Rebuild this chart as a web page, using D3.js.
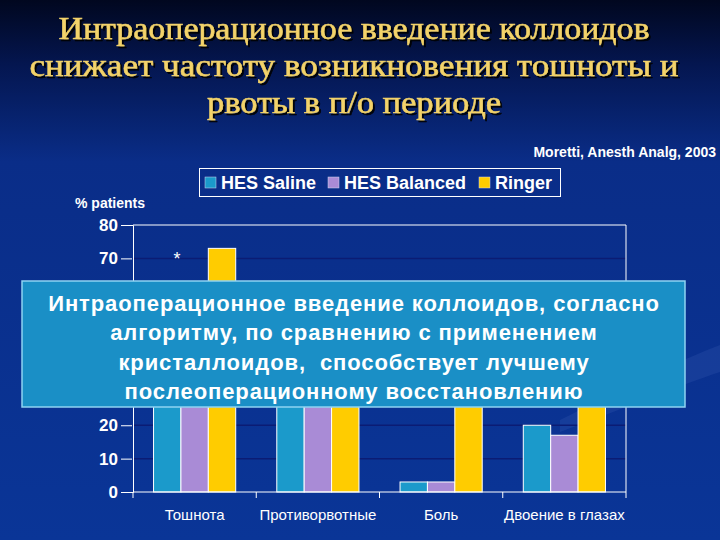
<!DOCTYPE html>
<html>
<head>
<meta charset="utf-8">
<script src="https://cdn.jsdelivr.net/npm/d3@7"></script>
<style>
  html, body { margin: 0; padding: 0; background: #06206e; }
  svg { display: block; }
</style>
</head>
<body>
<div id="chart-container"></div>
<script>
/**************************************************
 * Data
 **************************************************/

const titleLines = [
  "Интраоперационное введение коллоидов",
  "снижает частоту возникновения тошноты и",
  "рвоты в п/о периоде"
];
const noteLines = [
  "Интраоперационное введение коллоидов, согласно",
  "алгоритму, по сравнению с применением",
  "кристаллоидов,  способствует лучшему",
  "послеоперационному восстановлению"
];
const categories = ["Тошнота", "Противорвотные", "Боль", "Двоение в глазах"];
const seriesNames = ["HES Saline", "HES Balanced", "Ringer"];
// values hidden behind the note box are estimates
const hesSaline = [40, 38, 3, 20];
const hesBalanced = [42, 40, 3, 17];
const ringer = [73, 55, 36, 38];
const yTicks = [0, 10, 20, 30, 40, 50, 60, 70, 80];
const yTickLabels = [0, 10, 20, 70, 80]; // the others sit under the note box

/**************************************************
 * Rendering
 **************************************************/

const W = 720, H = 540;
const colors = ["#1b9acb", "#a98bd6", "#ffcc00"];
const seriesValues = [hesSaline, hesBalanced, ringer];
const titleWidths = [591, 649, 294];

const svg = d3.select("#chart-container")
  .append("svg")
  .attr("width", W)
  .attr("height", H);

const defs = svg.append("defs");
const bg = defs.append("linearGradient")
  .attr("id", "bg")
  .attr("x1", 0).attr("y1", 0).attr("x2", 0).attr("y2", 1);
bg.append("stop").attr("offset", "0").attr("stop-color", "#01071f");
bg.append("stop").attr("offset", "0.12").attr("stop-color", "#041650");
bg.append("stop").attr("offset", "0.3").attr("stop-color", "#0a2d88");
bg.append("stop").attr("offset", "1").attr("stop-color", "#0a3597");

const shadow = defs.append("filter").attr("id", "shadow");
shadow.append("feDropShadow")
  .attr("dx", 2).attr("dy", 2)
  .attr("stdDeviation", 0.6)
  .attr("flood-color", "#000000")
  .attr("flood-opacity", 0.9);

svg.append("rect")
  .attr("width", W)
  .attr("height", H)
  .attr("fill", "url(#bg)");

// faint swoosh on the right
svg.append("path")
  .attr("d", "M560,420 C620,390 680,360 720,345 L720,372 C680,385 620,410 560,432 Z")
  .attr("fill", "#4f6fc0")
  .attr("opacity", 0.18);

// Title
svg.append("g")
  .selectAll("text")
  .data(titleLines)
  .enter()
  .append("text")
  .attr("x", 354)
  .attr("y", (d, i) => 39 + i * 37)
  .attr("text-anchor", "middle")
  .attr("textLength", (d, i) => titleWidths[i])
  .attr("lengthAdjust", "spacingAndGlyphs")
  .attr("font-family", "'Liberation Serif', 'DejaVu Serif', serif")
  .attr("font-size", "31px")
  .attr("fill", "#f3d36a")
  .attr("stroke", "#f3d36a")
  .attr("stroke-width", 0.5)
  .attr("filter", "url(#shadow)")
  .text(d => d);

// Source
svg.append("text")
  .attr("x", 716)
  .attr("y", 157)
  .attr("text-anchor", "end")
  .attr("font-family", "'Liberation Sans', Arial, sans-serif")
  .attr("font-weight", "bold")
  .attr("font-size", "14px")
  .attr("fill", "#ffffff")
  .text("Moretti, Anesth Analg, 2003");

// Scales
const xScale = d3.scaleBand()
  .domain(categories)
  .range([133, 626])
  .paddingInner(1 / 3)
  .paddingOuter(1 / 6);

const xSub = d3.scaleBand()
  .domain(seriesNames)
  .range([0, xScale.bandwidth()]);

const yScale = d3.scaleLinear()
  .domain([0, 80])
  .range([492, 225]);

// Gridlines
svg.append("g")
  .selectAll("line")
  .data(yTicks.filter(t => t > 0 && t < 80))
  .enter()
  .append("line")
  .attr("x1", 133).attr("x2", 626)
  .attr("y1", d => yScale(d)).attr("y2", d => yScale(d))
  .attr("stroke", "#0b1c74")
  .attr("stroke-width", 1.5);

// Plot frame (top and right)
svg.append("path")
  .attr("d", `M133,${yScale(80)}H626V${yScale(0)}`)
  .attr("fill", "none")
  .attr("stroke", "#ffffff")
  .attr("stroke-width", 1);

// Bars
const groups = svg.selectAll("g.bar-group")
  .data(categories)
  .enter()
  .append("g")
  .attr("class", "bar-group")
  .attr("transform", d => `translate(${xScale(d)},0)`);

groups.selectAll("rect")
  .data((d, i) => seriesNames.map((s, j) => ({ series: s, value: seriesValues[j][i], color: colors[j] })))
  .enter()
  .append("rect")
  .attr("x", d => xSub(d.series))
  .attr("y", d => yScale(d.value))
  .attr("width", xSub.bandwidth())
  .attr("height", d => yScale(0) - yScale(d.value))
  .attr("fill", d => d.color)
  .attr("stroke", "#ffffff")
  .attr("stroke-width", 1);

// Axes
const yAxis = d3.axisLeft(yScale)
  .tickValues(yTicks)
  .tickSize(12)
  .tickPadding(3)
  .tickFormat(d => yTickLabels.includes(d) ? d3.format("d")(d) : "");

const yAxisG = svg.append("g")
  .attr("transform", "translate(133,0)")
  .call(yAxis);
yAxisG.select(".domain").attr("stroke", "#ffffff");
yAxisG.selectAll(".tick line").attr("stroke", "#ffffff").attr("x1", -12).attr("x2", -1);
yAxisG.selectAll(".tick text")
  .attr("fill", "#ffffff")
  .attr("font-family", "'Liberation Sans', Arial, sans-serif")
  .attr("font-weight", "bold")
  .attr("font-size", "17px");

const xBoundaries = d3.scaleBand().domain(categories).range([133, 626]);
const xAxisG = svg.append("g")
  .attr("transform", `translate(0,${yScale(0)})`);
xAxisG.append("line")
  .attr("x1", 133).attr("x2", 626)
  .attr("stroke", "#ffffff");
xAxisG.selectAll("line.tick")
  .data(categories.concat(["end"]))
  .enter()
  .append("line")
  .attr("class", "tick")
  .attr("x1", (d, i) => i < categories.length ? xBoundaries(d) : 626)
  .attr("x2", (d, i) => i < categories.length ? xBoundaries(d) : 626)
  .attr("y1", 0).attr("y2", 6)
  .attr("stroke", "#ffffff");
xAxisG.selectAll("text")
  .data(categories)
  .enter()
  .append("text")
  .attr("x", d => xScale(d) + xScale.bandwidth() / 2)
  .attr("y", 28)
  .attr("text-anchor", "middle")
  .attr("font-family", "'Liberation Sans', Arial, sans-serif")
  .attr("font-size", "15px")
  .attr("fill", "#ffffff")
  .text(d => d);

// Y axis title
svg.append("text")
  .attr("x", 75)
  .attr("y", 208)
  .attr("font-family", "'Liberation Sans', Arial, sans-serif")
  .attr("font-weight", "bold")
  .attr("font-size", "14px")
  .attr("fill", "#ffffff")
  .text("% patients");

// Significance mark
svg.append("text")
  .attr("x", xScale(categories[0]) + xSub("HES Balanced") - 4)
  .attr("y", 265)
  .attr("text-anchor", "middle")
  .attr("font-family", "'Liberation Sans', Arial, sans-serif")
  .attr("font-size", "18px")
  .attr("fill", "#ffffff")
  .text("*");

// Legend
const legend = svg.append("g")
  .attr("class", "legend");
legend.append("rect")
  .attr("x", 199.5).attr("y", 168.5)
  .attr("width", 361).attr("height", 28)
  .attr("fill", "none")
  .attr("stroke", "#ffffff");
const legendX = [205, 328, 479];
seriesNames.forEach((name, i) => {
  legend.append("rect")
    .attr("x", legendX[i]).attr("y", 177)
    .attr("width", 11).attr("height", 11)
    .attr("fill", colors[i])
    .attr("stroke", "#cfd8f0")
    .attr("stroke-width", 0.5);
  legend.append("text")
    .attr("x", legendX[i] + 16)
    .attr("y", 189)
    .attr("font-family", "'Liberation Sans', Arial, sans-serif")
    .attr("font-weight", "bold")
    .attr("font-size", "18px")
    .attr("fill", "#ffffff")
    .text(name);
});

// Note box over the chart
svg.append("rect")
  .attr("x", 22).attr("y", 281)
  .attr("width", 663).attr("height", 126)
  .attr("fill", "#1a8fc6")
  .attr("stroke", "#8fd3f2")
  .attr("stroke-width", 1.5);

svg.append("g")
  .selectAll("text")
  .data(noteLines)
  .enter()
  .append("text")
  .attr("x", 354)
  .attr("y", (d, i) => 311 + i * 29.3)
  .attr("text-anchor", "middle")
  .attr("font-family", "'Liberation Sans', Arial, sans-serif")
  .attr("font-weight", "bold")
  .attr("font-size", "22px")
  .attr("letter-spacing", "0.9px")
  .style("white-space", "pre")
  .attr("fill", "#ffffff")
  .text(d => d);
</script>
</body>
</html>
